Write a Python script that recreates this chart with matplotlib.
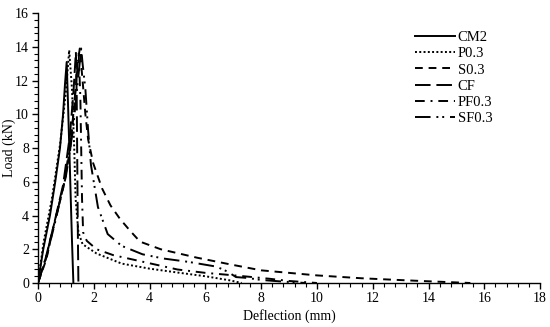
import matplotlib
matplotlib.use("Agg")
from matplotlib import pyplot as plt
from matplotlib.ticker import MultipleLocator

# deflection (mm) / load (kN)
cm2_x = [0, 0.19, 0.43, 0.62, 0.79, 0.9, 0.97, 1.03, 1.08, 1.15, 1.22, 1.27]
cm2_y = [0, 2.0, 4.0, 6.0, 8.0, 10.0, 11.8, 13.1, 10.5, 6.5, 2.5, 0]

p03_x = [0, 0.2, 0.5, 0.8, 1.0, 1.12, 1.22, 1.3, 1.35, 1.45, 1.6, 2.1, 3.0, 4.0, 5.0, 6.0, 6.9, 7.3]
p03_y = [0, 2.4, 5.0, 8.3, 11.3, 13.8, 11.5, 8.0, 5.0, 3.0, 2.3, 1.75, 1.15, 0.85, 0.62, 0.4, 0.15, 0]

s03_x = [0, 0.3, 0.55, 0.9, 1.15, 1.3, 1.42, 1.5, 1.6, 1.7, 1.8, 1.98, 2.3, 2.6, 2.94,
         3.3, 3.66, 4.4, 5.7, 6.9, 8.0, 10.0, 11.6, 12.9, 14.0, 15.5]
s03_y = [0, 1.4, 3.3, 5.6, 7.8, 10.5, 13.0, 13.9, 12.0, 10.0, 8.5, 7.1, 5.6, 4.6, 3.8,
         3.1, 2.45, 2.0, 1.5, 1.1, 0.75, 0.45, 0.28, 0.18, 0.1, 0]

cf_x = [0, 0.25, 0.55, 0.9, 1.15, 1.28, 1.36, 1.39, 1.41, 1.43, 1.45]
cf_y = [0, 1.3, 3.3, 5.8, 8.8, 11.5, 13.7, 11.0, 7.0, 3.0, 0]

pf03_x = [0, 0.3, 0.6, 0.95, 1.2, 1.35, 1.46, 1.52, 1.55, 1.58, 1.62, 1.75, 2.1, 2.7,
          3.7, 5.0, 6.0, 6.7, 7.5, 8.3, 9.0, 10.0]
pf03_y = [0, 1.5, 3.5, 6.0, 8.8, 11.5, 13.6, 11.0, 8.0, 5.0, 3.0, 2.5, 2.0, 1.65,
          1.28, 0.8, 0.6, 0.5, 0.38, 0.25, 0.12, 0]

sf03_x = [0, 0.3, 0.6, 1.0, 1.25, 1.42, 1.55, 1.6, 1.7, 1.8, 1.9, 2.15, 2.5, 3.0,
          3.75, 4.5, 5.4, 6.4, 6.8, 7.1, 7.5, 8.0, 8.8, 9.6]
sf03_y = [0, 1.6, 3.6, 6.3, 9.0, 11.8, 13.9, 13.0, 11.5, 9.0, 7.0, 4.5, 2.9, 2.2,
          1.7, 1.45, 1.25, 0.97, 0.67, 0.35, 0.3, 0.18, 0.08, 0]

labels = ["CM2", "P0.3", "S0.3", "CF", "PF0.3", "SF0.3"]

plt.rcParams["font.family"] = ["Liberation Serif", "DejaVu Serif"]

fig = plt.figure(figsize=(5.5, 3.27), dpi=100)
ax = fig.add_axes([0.069, 0.1346, 0.913, 0.8254])

lw = 1.4
ax.plot(cm2_x, cm2_y, color="black", lw=lw, linestyle="-", label=labels[0])
ax.plot(p03_x, p03_y, color="black", lw=lw, linestyle=(0, (1, 1.2)), label=labels[1])
ax.plot(s03_x, s03_y, color="black", lw=lw, linestyle=(0, (4, 3)), label=labels[2])
ax.plot(cf_x, cf_y, color="black", lw=lw, linestyle=(0, (8, 3)), label=labels[3])
ax.plot(pf03_x, pf03_y, color="black", lw=lw, linestyle=(0, (5, 3, 1, 3)), label=labels[4])
ax.plot(sf03_x, sf03_y, color="black", lw=lw, linestyle=(0, (8, 3, 1, 2, 1, 3)), label=labels[5])

ax.set_xlim(0, 18)
ax.set_ylim(0, 16)
ax.xaxis.set_major_locator(MultipleLocator(2))
ax.xaxis.set_minor_locator(MultipleLocator(0.4))
ax.yaxis.set_major_locator(MultipleLocator(2))
ax.yaxis.set_minor_locator(MultipleLocator(0.4))
ax.tick_params(which="major", direction="out", length=4, width=1, labelsize=10, pad=2.5)
ax.tick_params(which="minor", direction="out", length=3, width=0.8)

ax.spines["top"].set_visible(False)
ax.spines["right"].set_visible(False)
ax.spines["left"].set_linewidth(1)
ax.spines["bottom"].set_linewidth(1)

ax.set_xlabel("Deflection (mm)", fontsize=10, labelpad=3)
ax.set_ylabel("Load (kN)", fontsize=10)
ax.yaxis.set_label_coords(-0.044, 0.5)

ax.legend(loc="upper left", bbox_to_anchor=(0.74, 0.955), frameon=False,
          fontsize=10.5, handlelength=2.7, handletextpad=0.2, labelspacing=0.2,
          borderaxespad=0)

fig.savefig("out.png", dpi=100)
